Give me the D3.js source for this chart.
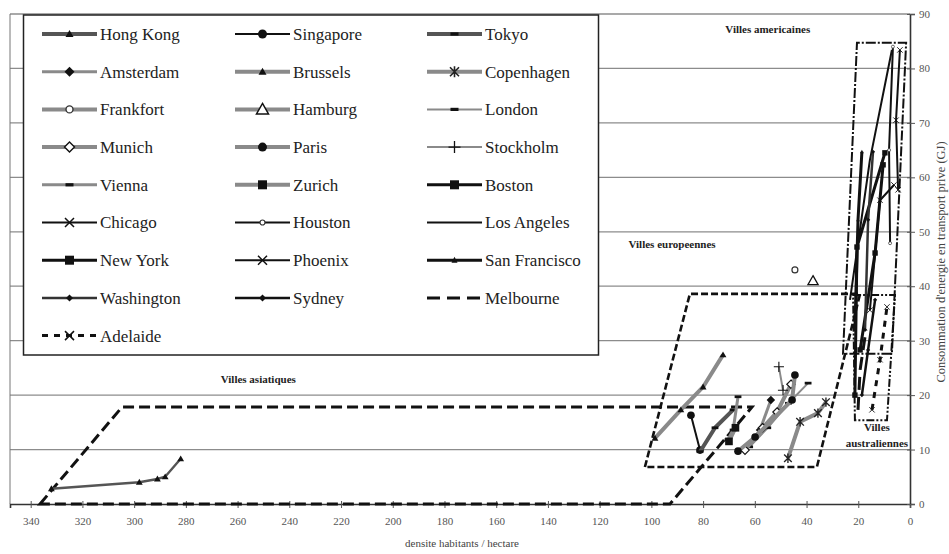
<!DOCTYPE html>
<html><head><meta charset="utf-8">
<script src="https://cdn.jsdelivr.net/npm/d3@7"></script>
<style>body{margin:0;background:#fff}svg{display:block}
svg text{font-family:"Liberation Serif","DejaVu Serif","Times New Roman",serif !important}</style>
</head><body><svg id="c" width="949" height="554"></svg>
<script>
// ---------- data ----------
const xTicks = [340,320,300,280,260,240,220,200,180,160,140,120,100,80,60,40,20,0];
const yTicks = [0,10,20,30,40,50,60,70,80,90];
const xTitle = "densite habitants / hectare";
const yTitle = "Consommation d'energie en transport prive (GJ)";

const cityNames = ["Hong Kong","Singapore","Tokyo","Amsterdam","Brussels","Copenhagen",
  "Frankfort","Hamburg","London","Munich","Paris","Stockholm","Vienna","Zurich","Boston",
  "Chicago","Houston","Los Angeles","New York","Phoenix","San Francisco","Washington",
  "Sydney","Melbourne","Adelaide"];

// [density, energy] per city
const hongKong   = [[332,2.8],[298,4.0],[291,4.6],[288,5.0],[282,8.3]];
const singapore  = [[84.7,16.3],[81.2,9.9]];
const tokyo      = [[81.2,9.6],[75.4,14.0],[68.4,17.3]];
const amsterdam  = [[58,13.6],[53.8,19.1]];
const brussels   = [[98.6,12.1],[88.6,17.3],[80.0,21.5],[72.3,27.4]];
const copenhagen = [[47.2,8.4],[42.5,15.1],[35.6,16.7],[32.5,18.7]];
const frankfort  = [[44.5,43.0]];
const hamburg    = [[37.5,41.0]];
const london     = [[62,10.5],[55,14],[47,18.5],[39.4,22.2]];
const munich     = [[63.8,9.9],[57,14],[51.4,16.9],[46,22]];
const paris      = [[66.5,9.7],[59.9,12.3],[45.6,19.1],[44.5,23.7]];
const stockholm  = [[49.1,20.9],[50.7,25.2]];
const vienna     = [[70.4,11.8],[68.4,13.6],[66.5,19.7]];
const zurich     = [[70,11.5],[67.5,14]];
const boston     = [[19.3,28.3],[13.5,46.1],[10.4,62.3]];
const chicago    = [[15.5,35.6],[11.6,55.8],[6.2,58.6]];
const houston    = [[7.7,47.9],[8.1,65],[6.6,84]];
const losAngeles = [[23.2,37.5],[15.5,63.2],[7.0,83.4]];
const newYork    = [[21.3,20.0],[20.5,47.2],[9.7,64.5]];
const phoenix    = [[4.6,57.7],[5.4,70.5],[3.9,83.4]];
const sanFrancisco = [[21.3,32],[20.1,52.2],[18.6,64.7]];
const washington = [[17.4,32],[16.2,52.2],[14.3,64.7]];
const sydney     = [[18.6,20],[16.2,28.3],[13.5,37.5]];
const melbourne  = [[20.1,17.3],[19.3,24.6],[17,32]];
const adelaide   = [[14.7,17.3],[11.6,26.5],[8.9,36.2]];

const cityValues = [hongKong,singapore,tokyo,amsterdam,brussels,copenhagen,frankfort,hamburg,
  london,munich,paris,stockholm,vienna,zurich,boston,chicago,houston,losAngeles,newYork,
  phoenix,sanFrancisco,washington,sydney,melbourne,adelaide];

// group envelopes [density, energy]
const asianBox      = [[336.4,0],[304.7,17.8],[61.1,17.8],[92.8,0]];
const europeanBox   = [[102.5,6.8],[85.1,38.6],[19.3,38.6],[36.0,6.8]];
const americanBox   = [[25.9,27.6],[20.5,84.7],[1.5,84.7],[7.0,27.6]];
const australianBox = [[22,38.4],[5.8,38.4],[8.9,15.4],[21.3,15.4]];
const groupLabels = [
  {lines:["Villes americaines"], at:[55,86.5]},
  {lines:["Villes europeennes"], at:[92,47.0]},
  {lines:["Villes asiatiques"], at:[252,22.3]},
  {lines:["Villes","australiennes"], at:[12.8,13.5]}
];

// ---------- styles ----------
const G1="#555", G2="#8a8a8a", K="#111";
const styles = {
 "Hong Kong":{c:G1,w:4,m:"tri"}, "Singapore":{c:K,w:2,m:"circle"}, "Tokyo":{c:G1,w:4,m:"dash"},
 "Amsterdam":{c:G2,w:3,m:"diamond"}, "Brussels":{c:G2,w:4,m:"tri"}, "Copenhagen":{c:G2,w:4,m:"aster"},
 "Frankfort":{c:G2,w:4,m:"ocircle"}, "Hamburg":{c:G2,w:4,m:"otri"}, "London":{c:G2,w:2,m:"dash"},
 "Munich":{c:G2,w:4,m:"odiamond"}, "Paris":{c:G2,w:4,m:"circle"}, "Stockholm":{c:G2,w:2,m:"plus"},
 "Vienna":{c:G2,w:3,m:"dash"}, "Zurich":{c:G2,w:4,m:"square"}, "Boston":{c:K,w:3,m:"square"},
 "Chicago":{c:K,w:2,m:"x"}, "Houston":{c:K,w:2,m:"scircle"}, "Los Angeles":{c:K,w:2,m:null},
 "New York":{c:K,w:3,m:"square"}, "Phoenix":{c:K,w:2,m:"x"}, "San Francisco":{c:K,w:3,m:"stri"},
 "Washington":{c:"#333",w:2.5,m:"sdiamond"}, "Sydney":{c:K,w:2.5,m:"sdiamond"},
 "Melbourne":{c:K,w:3,m:null,d:"13,7"}, "Adelaide":{c:K,w:3,m:"x",d:"6,6"}
};
const plotWidthScale = {"Hong Kong":0.6};
const smallMarkerCities = ["Boston","Chicago","New York","Phoenix","San Francisco","Washington","Sydney","Adelaide","Houston"];

// ---------- chart ----------
const svg = d3.select("#c");
const x = d3.scaleLinear().domain([348,0]).range([10,910]);
const y = d3.scaleLinear().domain([0,90]).range([504,14]);

svg.append("g").selectAll("line").data(yTicks.filter(v=>v>0)).join("line")
  .attr("x1",10).attr("x2",910).attr("y1",d=>y(d)).attr("y2",d=>y(d))
  .attr("stroke","#8c8c8c").attr("stroke-width",1.3);
svg.append("line").attr("x1",10).attr("x2",10).attr("y1",14).attr("y2",504)
  .attr("stroke","#777").attr("stroke-width",1);

const xAxis = svg.append("g").attr("transform","translate(0,504)")
  .call(d3.axisBottom(x).tickValues(xTicks).tickSize(4).tickFormat(d3.format("d")));
xAxis.select(".domain").attr("stroke","#333").attr("stroke-width",1.6);
xAxis.selectAll(".tick line").attr("stroke","#555").attr("y1",-3);
xAxis.selectAll("text").attr("font-size",11).attr("fill","#555").attr("dy","1.3em");

const yAxis = svg.append("g").attr("transform","translate(910,0)")
  .call(d3.axisRight(y).tickValues(yTicks).tickSize(5).tickFormat(d3.format("d")));
yAxis.select(".domain").attr("stroke","#333").attr("stroke-width",1.6);
yAxis.selectAll(".tick line").attr("stroke","#555").attr("x1",-3);
yAxis.selectAll("text").attr("font-size",11).attr("fill","#555").attr("x",9);

svg.append("text").attr("x",462).attr("y",547).attr("text-anchor","middle")
  .attr("font-size",11).attr("fill","#444").text(xTitle);
svg.append("text").attr("transform","translate(945,262) rotate(-90)").attr("text-anchor","middle")
  .attr("font-size",12.5).attr("fill","#444").text(yTitle);

const poly = d3.line().x(d=>x(d[0])).y(d=>y(d[1])).curve(d3.curveLinearClosed);
const boxG = svg.append("g").attr("fill","none");
boxG.append("path").attr("d",poly(asianBox)).attr("stroke","#111").attr("stroke-width",3).attr("stroke-dasharray","11,5");
boxG.append("path").attr("d",poly(europeanBox)).attr("stroke","#111").attr("stroke-width",2.6).attr("stroke-dasharray","7,3");
boxG.append("path").attr("d",poly(americanBox)).attr("stroke","#111").attr("stroke-width",2).attr("stroke-dasharray","10,2,2,2");
boxG.append("path").attr("d",poly(australianBox)).attr("stroke","#111").attr("stroke-width",2).attr("stroke-dasharray","8,2,2,2,2,2");

groupLabels.forEach(l=>{
  const t = svg.append("text").attr("text-anchor","middle")
    .attr("font-size",11).attr("font-weight","bold").attr("fill","#222");
  l.lines.forEach((s,i)=>t.append("tspan").attr("x",x(l.at[0])).attr("y",y(l.at[1])+i*16).text(s));
});

function marker(g, type, cx, cy, sc){
  if(!type) return;
  const s = g.append("g").attr("transform",`translate(${cx},${cy}) scale(${sc||1})`);
  const k="#111";
  switch(type){
    case "tri": s.append("path").attr("d","M0,-4L4,3L-4,3Z").attr("fill",k); break;
    case "stri": s.append("path").attr("d","M0,-3.5L3,2.5L-3,2.5Z").attr("fill",k); break;
    case "otri": s.append("path").attr("d","M0,-6L6,4.5L-6,4.5Z").attr("fill","#fff").attr("stroke",k).attr("stroke-width",1.5); break;
    case "circle": s.append("circle").attr("r",4.5).attr("fill",k); break;
    case "ocircle": s.append("circle").attr("r",3.5).attr("fill","#fff").attr("stroke","#333").attr("stroke-width",1.4); break;
    case "scircle": s.append("circle").attr("r",2.5).attr("fill","#fff").attr("stroke","#333").attr("stroke-width",1.2); break;
    case "dash": s.append("rect").attr("x",-4).attr("y",-1.6).attr("width",8).attr("height",3.2).attr("fill",k); break;
    case "diamond": s.append("path").attr("d","M0,-5L5,0L0,5L-5,0Z").attr("fill",k); break;
    case "sdiamond": s.append("path").attr("d","M0,-3.5L3.5,0L0,3.5L-3.5,0Z").attr("fill",k); break;
    case "odiamond": s.append("path").attr("d","M0,-5L5,0L0,5L-5,0Z").attr("fill","#fff").attr("stroke",k).attr("stroke-width",1.4); break;
    case "square": s.append("rect").attr("x",-4.5).attr("y",-4.5).attr("width",9).attr("height",9).attr("fill",k); break;
    case "plus": s.append("path").attr("d","M-6,0H6M0,-6V6").attr("stroke",k).attr("stroke-width",1.3); break;
    case "x": s.append("path").attr("d","M-4.5,-4.5L4.5,4.5M-4.5,4.5L4.5,-4.5").attr("stroke",k).attr("stroke-width",1.5); break;
    case "aster": s.append("path").attr("d","M-4.5,-4.5L4.5,4.5M-4.5,4.5L4.5,-4.5M0,-5.5V5.5").attr("stroke","#222").attr("stroke-width",1.6); break;
  }
}

const line = d3.line().x(d=>x(d[0])).y(d=>y(d[1]));
const serG = svg.append("g");
cityNames.forEach((n,i)=>{
  const st = styles[n], vals = cityValues[i];
  const w = st.w*(plotWidthScale[n]||1);
  if(vals.length>1) serG.append("path").attr("d",line(vals)).attr("fill","none")
    .attr("stroke",st.c).attr("stroke-width",w).attr("stroke-dasharray",st.d||null)
    .attr("stroke-linejoin","round");
  const mg = serG.append("g");
  const sc = smallMarkerCities.includes(n)?0.6:0.85;
  vals.forEach(v=>marker(mg, st.m, x(v[0]), y(v[1]), sc));
});

const lg = svg.append("g");
lg.append("rect").attr("x",23.5).attr("y",15).attr("width",575).attr("height",340)
  .attr("fill","#fff").attr("stroke","#222").attr("stroke-width",1.5);
const colX = [42,235,427], rowY0 = 34, rowH = 37.7;
cityNames.forEach((n,i)=>{
  const st = styles[n];
  const cx = colX[i%3], cy = rowY0 + Math.floor(i/3)*rowH;
  lg.append("line").attr("x1",cx).attr("x2",cx+55).attr("y1",cy).attr("y2",cy)
    .attr("stroke",st.c).attr("stroke-width",st.w).attr("stroke-dasharray",st.d||null);
  marker(lg, st.m, cx+27.5, cy, 1);
  lg.append("text").attr("x",cx+58).attr("y",cy).attr("dy","0.35em")
    .attr("font-size",17).attr("fill","#222").text(n);
});
</script></body></html>
